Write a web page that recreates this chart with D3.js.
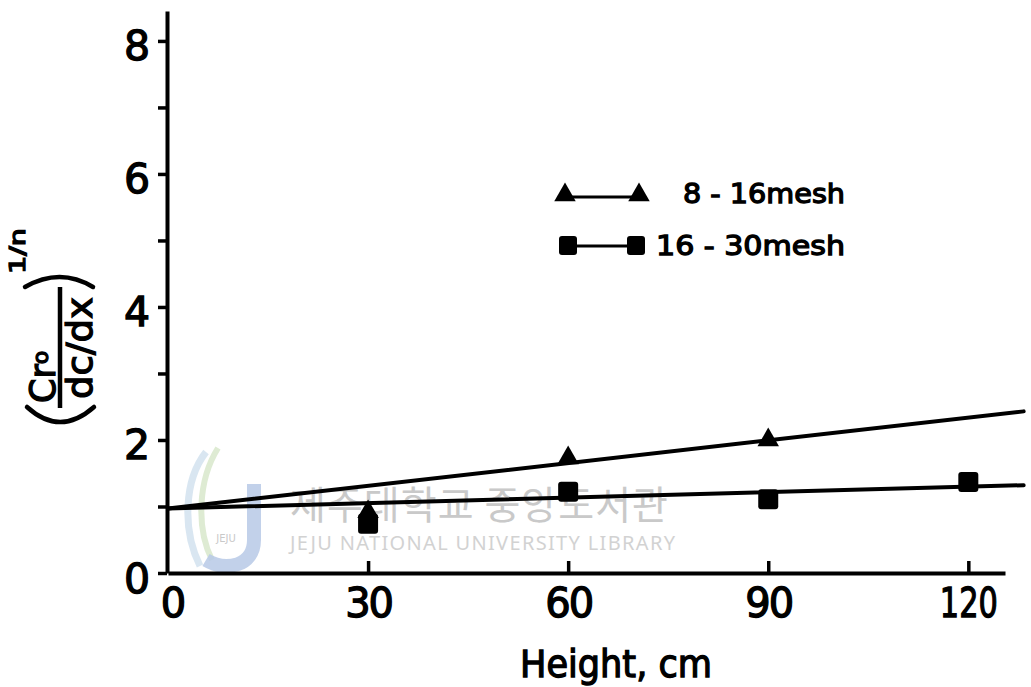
<!DOCTYPE html>
<html>
<head>
<meta charset="utf-8">
<script src="https://cdn.jsdelivr.net/npm/d3@7"></script>
<style>
  html, body { margin: 0; padding: 0; background: #fff; }
  svg { display: block; }
  text { font-family: "DejaVu Sans", sans-serif; font-weight: normal; fill: #000; }
  text.ink { stroke: #000; stroke-width: 1.3px; paint-order: stroke; }
</style>
</head>
<body>
<svg id="chart" width="1031" height="687"></svg>
<script>
// ---- data ----
const yTicks = [0, 1, 2, 3, 4, 5, 6, 7, 8];
const yTickLabels = ["0", "", "2", "", "4", "", "6", "", "8"];
const xTicks = [0, 30, 60, 90, 120];
const xTickLabels = ["0", "30", "60", "90", "120"];

const seriesNames = ["8 - 16mesh", "16 - 30mesh"];
const heights8_16 = [30, 60, 90];
const values8_16 = [0.92, 1.73, 2.0];
const heights16_30 = [30, 60, 90, 120];
const values16_30 = [0.74, 1.22, 1.11, 1.37];

// fitted straight lines (height, value) at both ends
const fit8_16 = [[0, 0.97], [128.3, 2.43]];
const fit16_30 = [[0, 0.97], [128.3, 1.32]];

const xTitle = "Height, cm";

// ---- layout ----
const svg = d3.select("#chart");
const x = d3.scaleLinear().domain([0, 125.5]).range([168, 1005]);
const y = d3.scaleLinear().domain([0, 8.45]).range([573, 11]);

// ---- watermark (beneath data) ----
const wm = svg.append("g").attr("class", "watermark");
wm.append("path")
  .attr("d", "M206,452 C184,480 182,530 200,566")
  .attr("fill", "none").attr("stroke", "#cfe0ee").attr("stroke-width", 7).attr("opacity", 0.8);
wm.append("path")
  .attr("d", "M218,448 C198,480 196,528 212,560")
  .attr("fill", "none").attr("stroke", "#d6e6c8").attr("stroke-width", 6).attr("opacity", 0.8);
wm.append("path")
  .attr("d", "M254,484 L254,540 C254,566 226,572 206,560")
  .attr("fill", "none").attr("stroke", "#b7c9e6").attr("stroke-width", 14).attr("opacity", 0.85);
wm.append("text").attr("x", 226).attr("y", 542).attr("text-anchor", "middle")
  .style("font-size", "10px").style("fill", "#c9c9c9").text("JEJU");
wm.append("text").attr("x", 290).attr("y", 519)
  .style("font-family", "'Noto Sans CJK KR', sans-serif").style("font-size", "39px")
  .style("fill", "#c9c9c9").attr("textLength", 378).text("제주대학교 중앙도서관");
wm.append("text").attr("x", 290).attr("y", 550)
  .style("font-family", "'Noto Sans', sans-serif").style("font-size", "20px")
  .style("fill", "#d2d2d2").attr("textLength", 385).text("JEJU NATIONAL UNIVERSITY  LIBRARY");

// ---- axes ----
const yAxis = d3.axisLeft(y).tickValues(yTicks).tickSize(9).tickSizeOuter(0)
  .tickFormat((d, i) => yTickLabels[i]);
const gy = svg.append("g").attr("transform", "translate(167,0)").call(yAxis);
gy.select(".domain").attr("stroke", "#000").attr("stroke-width", 4);
gy.selectAll(".tick line").attr("stroke", "#000").attr("stroke-width", 3.5);
gy.selectAll(".tick text")
  .attr("class", "ink")
  .attr("x", -17).attr("dy", null).attr("y", 19)
  .style("font-family", "'DejaVu Sans', sans-serif")
  .style("font-size", "41px").attr("fill", "#000");

const xAxis = d3.axisBottom(x).tickValues(xTicks).tickSize(-12).tickSizeOuter(0)
  .tickFormat((d, i) => xTickLabels[i]);
const gx = svg.append("g").attr("transform", "translate(0,573)").call(xAxis);
gx.select(".domain").attr("stroke", "#000").attr("stroke-width", 4);
gx.selectAll(".tick line").attr("stroke", "#000").attr("stroke-width", 3.5)
  .attr("opacity", d => d === 0 ? 0 : 1);
gx.selectAll(".tick text")
  .attr("class", "ink")
  .attr("dy", null).attr("y", 44)
  .style("font-family", "'DejaVu Sans', sans-serif")
  .style("font-size", "40px")
  .style("letter-spacing", "-2px").attr("fill", "#000");
gx.selectAll(".tick").filter(d => d === 0).select("text").attr("x", 4);
gx.selectAll(".tick").filter(d => d === 120).select("text")
  .attr("textLength", 58).attr("lengthAdjust", "spacingAndGlyphs").style("letter-spacing", null);

// ---- x title ----
svg.append("text").attr("class", "ink").attr("x", 616).attr("y", 677).attr("text-anchor", "middle")
  .style("font-size", "37px").attr("textLength", 192).attr("lengthAdjust", "spacingAndGlyphs")
  .text(xTitle);

// ---- y title (rotated fraction) ----
const yl = svg.append("g").attr("transform", "translate(60,348) rotate(-90)");
yl.append("line").attr("x1", -60).attr("x2", 61).attr("y1", 0).attr("y2", 0)
  .attr("stroke", "#000").attr("stroke-width", 4.5);
const num = yl.append("text").attr("class", "ink").attr("x", -55).attr("y", -5)
  .style("font-size", "35px");
num.append("tspan").text("Cr");
num.append("tspan").attr("dy", -7).style("font-size", "22px").text("o");
yl.append("text").attr("class", "ink").attr("x", 0).attr("y", 32).attr("text-anchor", "middle")
  .style("font-size", "36px").attr("textLength", 102).attr("lengthAdjust", "spacingAndGlyphs").text("dc/dx");
yl.append("path").attr("d", "M-59,-33 Q-89,0 -59,34")
  .attr("fill", "none").attr("stroke", "#000").attr("stroke-width", 4.5).attr("stroke-linecap", "round");
yl.append("path").attr("d", "M61,-35 Q81,0 61,33")
  .attr("fill", "none").attr("stroke", "#000").attr("stroke-width", 4.5).attr("stroke-linecap", "round");
yl.append("text").attr("class", "ink").attr("x", 74).attr("y", -35)
  .style("font-size", "21px").attr("textLength", 46).attr("lengthAdjust", "spacingAndGlyphs").text("1/n");

// ---- fitted lines ----
const line = d3.line().x(d => x(d[0])).y(d => y(d[1]));
[fit8_16, fit16_30].forEach(f => {
  svg.append("path").attr("d", line(f)).attr("fill", "none")
    .attr("stroke", "#000").attr("stroke-width", 4).attr("stroke-linecap", "round");
});

// ---- markers ----
const tri = d3.symbol().type(d3.symbolTriangle).size(200);
svg.append("g").selectAll("path")
  .data(heights8_16.map((h, i) => [h, values8_16[i]]))
  .join("path")
  .attr("d", tri)
  .attr("transform", d => `translate(${x(d[0])},${y(d[1])})`)
  .attr("fill", "#000");

const sq = 20;
svg.append("g").selectAll("rect")
  .data(heights16_30.map((h, i) => [h, values16_30[i]]))
  .join("rect")
  .attr("x", d => x(d[0]) - sq / 2).attr("y", d => y(d[1]) - sq / 2)
  .attr("width", sq).attr("height", sq).attr("rx", 3)
  .attr("fill", "#000");

// ---- legend ----
const leg = svg.append("g");
leg.append("line").attr("x1", 565).attr("x2", 639).attr("y1", 197).attr("y2", 197)
  .attr("stroke", "#000").attr("stroke-width", 3);
[565, 639].forEach(cx => leg.append("path").attr("d", tri).attr("transform", `translate(${cx},195)`).attr("fill", "#000"));
leg.append("text").attr("class", "ink").attr("x", 683).attr("y", 203).style("font-size", "27px")
  .attr("textLength", 162).attr("lengthAdjust", "spacingAndGlyphs").text(seriesNames[0]);

leg.append("line").attr("x1", 568).attr("x2", 636).attr("y1", 246).attr("y2", 246)
  .attr("stroke", "#000").attr("stroke-width", 3);
[568, 636].forEach(cx => leg.append("rect").attr("x", cx - 9).attr("y", 236).attr("width", 18).attr("height", 19)
  .attr("rx", 3).attr("fill", "#000"));
leg.append("text").attr("class", "ink").attr("x", 656).attr("y", 255).style("font-size", "27px")
  .attr("textLength", 189).attr("lengthAdjust", "spacingAndGlyphs").text(seriesNames[1]);
</script>
</body>
</html>
